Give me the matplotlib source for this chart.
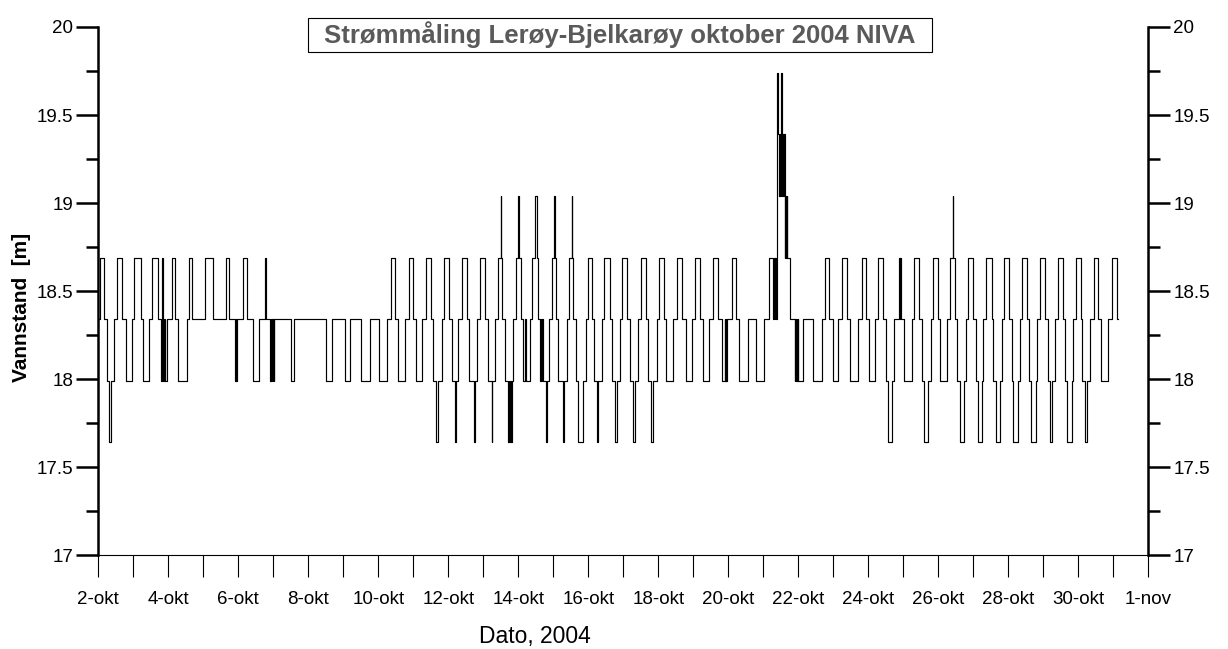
import matplotlib
matplotlib.use("Agg")
import matplotlib.pyplot as plt
from matplotlib.ticker import MultipleLocator, FuncFormatter
from matplotlib.patches import Rectangle
import matplotlib.dates as mdates
import pandas as pd
import numpy as np

plt.rcParams['font.family'] = ['Liberation Sans', 'DejaVu Sans']

# Quantised water level steps (m)
level_values = [17.64, 17.99, 18.34, 18.69, 19.04, 19.39, 19.74]

# (hours since 2-okt 00:00, level index), split by week
hours_wk1 = [0.8, 1.2, 3.7, 5.8, 7.5, 8.7, 10.8, 12.8, 16.5, 18.8, 22.9, 24.7, 29.3, 30.9, 35.0, 37.0,
             41.1, 42.8, 43.5, 44.2, 44.7, 45.1, 45.7, 46.1, 46.9, 50.3, 52.6, 54.9, 60.6, 62.4, 64.1,
             73.2, 78.5, 87.6, 89.8, 93.9, 94.3, 94.6, 94.9, 99.4, 102.2, 106.3, 110.2, 114.3, 114.7,
             117.7, 118.2, 118.6, 119.1, 119.6, 120.0, 120.3, 120.7, 132.1, 134.0, 155.9, 160.5]
codes_wk1 = [2, 3, 2, 1, 0, 1, 2, 3, 2, 1, 2, 3, 2, 1, 2, 3,
             2, 1, 3, 1, 2, 1, 2, 1, 2, 3, 2, 1, 2, 3, 2,
             3, 2, 3, 2, 1, 2, 1, 2, 3, 2, 1, 2, 3, 2,
             1, 2, 1, 2, 1, 2, 1, 2, 1, 2, 1, 2]

hours_wk2 = [169.2, 172.6, 180.1, 186.3, 192.5, 197.8, 200.7, 203.7, 205.7, 210.3, 213.1, 216.0, 217.9,
             221.8, 224.5, 227.9, 229.7, 231.9, 232.9, 235.5, 237.3, 240.5, 242.3, 244.6, 245.4, 246.9,
             249.2, 253.0, 254.4, 257.6, 258.3, 259.5, 261.7, 265.2, 267.0, 269.8, 270.2, 272.0, 273.9,
             276.1, 276.5, 277.0, 278.9, 281.1, 281.6, 282.0, 282.5, 283.0, 283.4, 284.6, 286.2, 288.0,
             288.3, 289.7, 291.4, 292.9, 293.1, 296.0, 297.6, 299.5, 300.6, 301.7, 302.9, 303.4, 303.8,
             304.3, 304.8, 307.0, 307.4, 309.1, 310.9, 312.7, 313.0, 313.9, 315.4, 318.5, 319.1, 321.2,
             323.0, 324.6, 325.0, 325.7, 327.6, 329.1, 332.6, 334.2, 335.6]
codes_wk2 = [1, 2, 1, 2, 1, 2, 3, 2, 1, 2, 3, 2, 1,
             2, 3, 2, 1, 0, 1, 2, 3, 2, 1, 0, 1, 2,
             3, 2, 1, 0, 1, 2, 3, 2, 1, 0, 1, 2, 3,
             4, 3, 2, 1, 0, 1, 0, 1, 0, 1, 2, 3, 4,
             3, 2, 1, 2, 1, 2, 3, 4, 3, 2, 1, 2, 1,
             2, 1, 0, 1, 2, 3, 4, 3, 2, 1, 0, 1, 2,
             3, 4, 3, 2, 1, 0, 1, 2, 3]

hours_wk3 = [338.7, 340.1, 341.8, 342.9, 345.2, 347.0, 350.9, 352.5, 354.3, 355.5, 357.7, 359.3, 362.7,
             364.6, 366.5, 368.0, 370.3, 371.9, 375.6, 377.1, 379.0, 380.6, 382.9, 384.5, 387.9, 389.3,
             394.3, 396.6, 400.5, 402.8, 406.9, 409.2, 412.6, 414.5, 418.5, 418.8, 419.1, 421.3, 425.1,
             427.5, 429.7, 430.0, 430.4, 430.8, 431.3, 434.3, 437.1, 439.3, 445.7, 450.8, 456.5, 460.1,
             462.9, 463.4, 463.9, 464.4, 464.8, 465.2, 465.6, 465.9, 466.1, 466.3, 466.6, 466.8, 467.0,
             467.2, 467.4, 467.6, 467.8, 468.0, 468.3, 468.6, 468.8, 469.0, 469.2, 469.4, 469.6, 469.8,
             470.0, 470.2, 470.4, 470.6, 470.8, 471.0, 471.2, 471.4, 471.6, 471.8, 472.0, 472.3, 472.6,
             474.3, 477.7, 478.1, 478.5, 478.9, 479.3, 479.7, 480.0, 483.4, 490.3, 496.1, 498.3, 501.1,
             504.0]
codes_wk3 = [2, 1, 0, 1, 2, 3, 2, 1, 0, 1, 2, 3, 2,
             1, 0, 1, 2, 3, 2, 1, 0, 1, 2, 3, 2, 1,
             2, 3, 2, 1, 2, 3, 2, 1, 2, 1, 2, 3, 2,
             1, 2, 1, 2, 1, 2, 3, 2, 1, 2, 1, 2, 3,
             2, 3, 2, 3, 2, 3, 6, 5, 6, 5, 4, 5, 4,
             5, 4, 5, 4, 5, 6, 5, 4, 5, 4, 5, 4, 5,
             4, 5, 4, 5, 4, 3, 4, 3, 4, 3, 4, 3, 3,
             2, 1, 2, 1, 2, 1, 2, 1, 2, 1, 2, 3, 2,
             1]

hours_wk4 = [507.4, 509.8, 513.2, 515.5, 521.1, 523.9, 526.2, 528.5, 532.6, 534.5, 537.9, 539.9, 541.7,
             544.1, 545.8, 549.3, 549.6, 549.9, 550.2, 552.7, 557.8, 559.5, 562.8, 564.6, 566.2, 569.1,
             571.0, 572.6, 575.6, 577.2, 581.7, 584.0, 585.9, 586.3, 587.5, 589.0, 590.9, 593.6, 595.0,
             596.6, 600.0, 601.9, 603.0, 605.8, 606.9, 608.7, 612.6, 613.7, 615.4, 618.3, 619.5, 621.1,
             624.7, 626.3, 627.4, 630.9, 632.0, 633.6, 637.0, 638.4, 639.6, 643.0, 643.9, 645.7, 649.2,
             651.0, 652.6, 654.2, 656.0, 657.9, 661.3, 662.9, 664.5, 667.5, 668.6, 670.4, 673.6, 674.7,
             676.6, 678.2, 680.0, 682.8, 685.7, 687.4, 692.6, 694.9, 698.3, 699.4]
codes_wk4 = [2, 3, 2, 1, 2, 3, 2, 1, 2, 3, 2, 1, 0,
             1, 2, 3, 2, 3, 2, 1, 2, 3, 2, 1, 0, 1,
             2, 3, 2, 1, 2, 3, 4, 3, 2, 1, 0, 1, 2,
             3, 2, 1, 0, 1, 2, 3, 2, 1, 0, 1, 2, 3,
             2, 1, 0, 1, 2, 3, 2, 1, 0, 1, 2, 3, 2,
             1, 0, 1, 2, 3, 2, 1, 0, 1, 2, 3, 2, 1,
             0, 1, 2, 3, 2, 1, 2, 3, 2, 2]

title = "Strømmåling Lerøy-Bjelkarøy oktober 2004 NIVA"
month_names = {10: "okt", 11: "nov"}

hours = np.array(hours_wk1 + hours_wk2 + hours_wk3 + hours_wk4)
codes = np.array(codes_wk1 + codes_wk2 + codes_wk3 + codes_wk4)
levels = np.array(level_values)[codes]
start = pd.Timestamp("2004-10-02")
end = pd.Timestamp("2004-11-01")
times = start + pd.to_timedelta(hours, unit="h")

fig = plt.figure(figsize=(12.28, 6.49), dpi=100)
ax = fig.add_axes([0.0800, 0.1448, 0.8550, 0.8136])
ax.step(times, levels, where="post", color="black", lw=0.85)

ax.set_ylim(17, 20)
ax.set_xlim(start, end)
ax.spines["top"].set_visible(False)
ax.spines["left"].set_linewidth(1.8)
ax.spines["right"].set_linewidth(1.8)
ax.spines["bottom"].set_linewidth(0.8)

ax.yaxis.set_major_locator(MultipleLocator(0.5))
ax.yaxis.set_minor_locator(MultipleLocator(0.25))
ax.yaxis.set_major_formatter(FuncFormatter(lambda v, p: f"{v:g}"))
ax.tick_params(axis="y", which="major", length=16, width=1.8, direction="out",
               left=True, right=True, labelleft=True, labelright=True, labelsize=13.5, pad=2)
ax.tick_params(axis="y", which="minor", length=8.5, width=1.8, direction="out",
               left=True, right=True)

ax.xaxis.set_major_locator(mdates.DayLocator())
def fmt_date(v, p):
    d = mdates.num2date(v)
    n = (pd.Timestamp(d.date()) - start).days
    if n % 2 == 0:
        return f"{d.day}-{month_names[d.month]}"
    return ""
ax.xaxis.set_major_formatter(FuncFormatter(fmt_date))
ax.tick_params(axis="x", which="major", length=16, width=0.8, direction="out",
               labelsize=13.5, pad=10)

fig.text(535 / 1228, 1 - 636 / 649, "Dato, 2004", ha="center", va="center", fontsize=16.5)
fig.text(22 / 1228, 1 - 307 / 649, "Vannstand  [m]", ha="center", va="center",
         rotation=90, fontsize=15, fontweight="bold")

fig.patches.append(Rectangle((308 / 1228, 1 - 52 / 649), 624 / 1228, 34 / 649,
                             transform=fig.transFigure, facecolor="white",
                             edgecolor="black", linewidth=0.8, zorder=5))
fig.text(620 / 1228, 1 - 35 / 649, title, ha="center", va="center", fontsize=18.5,
         fontweight="bold", color="#5a5a5a", zorder=6)

fig.savefig("out.png", dpi=100)
